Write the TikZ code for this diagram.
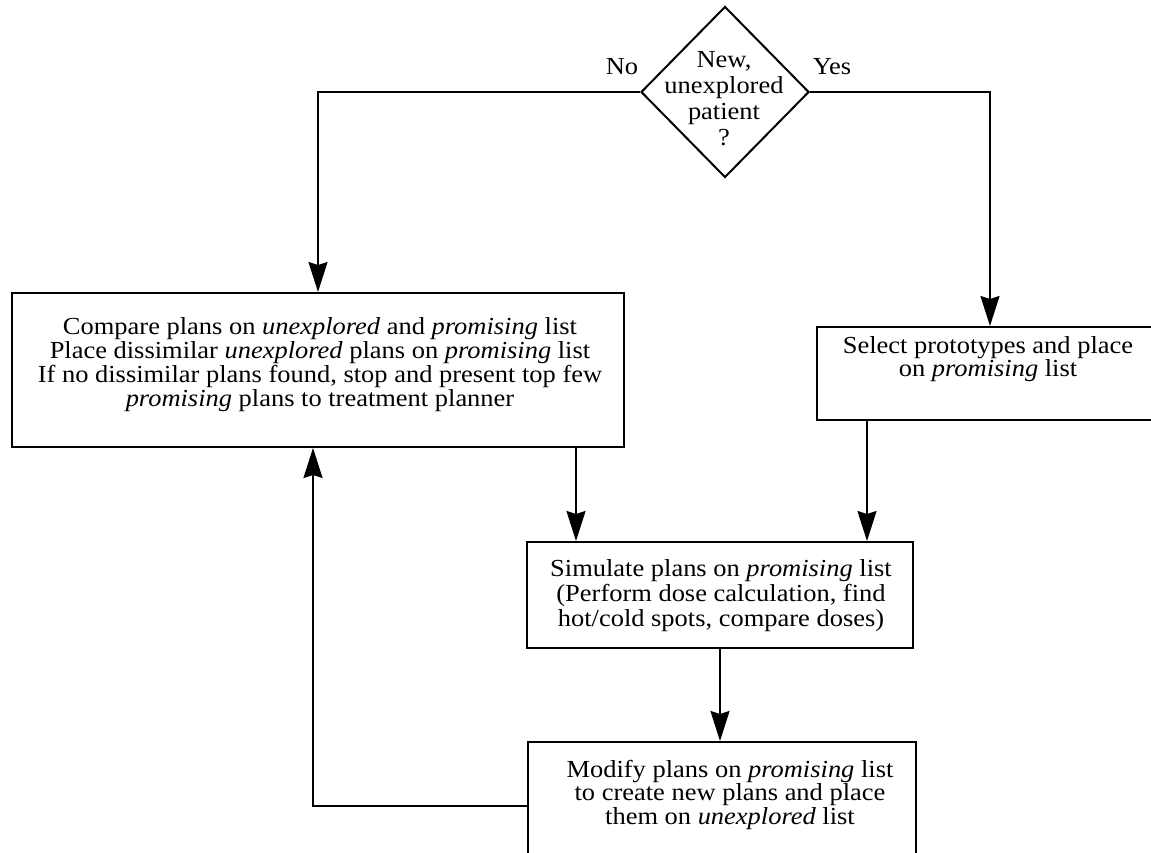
\documentclass[tikz,border=0pt]{standalone}
\usepackage{fontspec}
\setmainfont{Liberation Serif}[FakeStretch=1.08]
\usetikzlibrary{shapes.geometric,arrows.meta}
\setlength{\lineskiplimit}{-100pt}
\begin{document}
\begin{tikzpicture}[x=1pt,y=-1pt,
  box/.style={draw,line width=2pt,rectangle,inner sep=0pt},
  txt/.style={align=center,inner sep=0pt,anchor=north,font={\fontsize{24.5}{#1}\selectfont}},
  arr/.style={line width=2pt,-{Stealth[length=30pt,width=19pt,inset=3pt]}},
  lbl/.style={inner sep=0pt,anchor=base,font={\fontsize{24.5}{26}\selectfont}}]
\clip (0,0) rectangle (1151,853);
\fill[white] (0,0) rectangle (1151,853);
% decision
\node[draw,diamond,line width=2pt,inner sep=0pt,minimum width=168pt,minimum height=171pt] (D) at (725,92) {};
\node[txt=26] (Dt) at (724,51) {New,\\unexplored\\patient\\?};
\node[lbl] (no) at (622,75) {No};
\node[lbl] (yes) at (832,75) {Yes};
% boxes
\node[box,minimum width=612pt,minimum height=154pt] (L) at (318,370) {};
\node[txt=24] (Lt) at (320,317) {Compare plans on \textit{unexplored} and \textit{promising} list\\Place dissimilar \textit{unexplored} plans on \textit{promising} list\\If no dissimilar plans found, stop and present top few\\\textit{promising} plans to treatment planner};
\node[box,minimum width=346pt,minimum height=93pt] (R) at (990,373.5) {};
\node[txt=23.5] (Rt) at (988,336) {Select prototypes and place\\on \textit{promising} list};
\node[box,minimum width=386pt,minimum height=106pt] (S) at (720,595) {};
\node[txt=25] (St) at (721,559) {Simulate plans on \textit{promising} list\\(Perform dose calculation, find\\hot/cold spots, compare doses)};
\node[box,minimum width=388pt,minimum height=128pt] (M) at (722,806) {};
\node[txt=23.5] (Mt) at (730,760) {Modify plans on \textit{promising} list\\to create new plans and place\\them on \textit{unexplored} list};
% connectors
\draw[arr] (D.west) -| (L.north);
\draw[arr] (D.east) -| (R.north);
\draw[arr] ([xshift=50pt]S.north west |- L.south) -- ([xshift=50pt]S.north west);
\draw[arr] ([xshift=-47pt]S.north east |- R.south) -- ([xshift=-47pt]S.north east);
\draw[arr] (S.south) -- (S.south |- M.north);
\draw[arr] (M.west) -| ([xshift=-5pt]L.south);
\end{tikzpicture}
\end{document}
